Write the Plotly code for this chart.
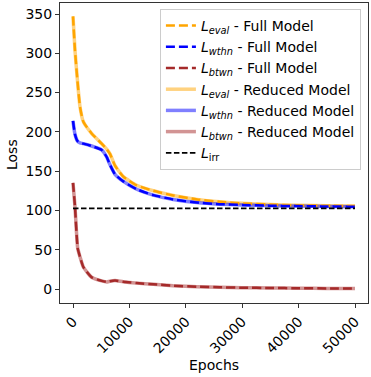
import plotly.graph_objects as go

epochs = [0, 350, 830, 1240, 1830, 3300, 5080, 5970, 6560, 7450, 8920, 11290,
          14240, 17780, 22000, 26000, 30000, 35000, 40000, 45000, 50000]

eval_full = [347, 304, 262, 232, 213, 198, 185, 178, 172, 157, 143, 132,
             125, 119, 114, 111, 109, 107.5, 106.5, 106, 105.5]
wthn_full = [214, 197, 188, 186, 185, 182, 177, 168, 158, 146, 137, 127,
             119.5, 114, 110, 108, 107, 106, 105.5, 105, 104.8]
btwn_full = [135, 105, 52, 41, 28, 15, 10.3, 9.0, 10.0, 10.8, 9.2, 7.5,
             6.0, 4.2, 3.0, 2.2, 1.7, 1.3, 1.0, 0.8, 0.7]

eval_red = list(eval_full)
wthn_red = list(wthn_full)
btwn_red = list(btwn_full)

irr_x = [0, 50000]
irr_y = [102.7, 102.7]

x_ticks = [0, 10000, 20000, 30000, 40000, 50000]
y_ticks = [0, 50, 100, 150, 200, 250, 300, 350]

names = [
    "<i>L</i><sub><i>eval</i></sub> - Full Model",
    "<i>L</i><sub><i>wthn</i></sub> - Full Model",
    "<i>L</i><sub><i>btwn</i></sub> - Full Model",
    "<i>L</i><sub><i>eval</i></sub> - Reduced Model",
    "<i>L</i><sub><i>wthn</i></sub> - Reduced Model",
    "<i>L</i><sub><i>btwn</i></sub> - Reduced Model",
    "<i>L</i><sub>irr</sub>",
]

fig = go.Figure()
full = [(eval_full, "#FFA500"), (wthn_full, "#0000FF"), (btwn_full, "#A52A2A")]
red = [(eval_red, "rgba(255,165,0,0.5)"), (wthn_red, "rgba(0,0,255,0.5)"),
       (btwn_red, "rgba(165,42,42,0.5)")]

for i, (ys, c) in enumerate(red):
    fig.add_trace(go.Scatter(x=epochs, y=ys, mode="lines", name=names[3 + i],
                             line=dict(color=c, width=3.5, shape="spline", smoothing=0.5),
                             legendrank=4 + i))
for i, (ys, c) in enumerate(full):
    fig.add_trace(go.Scatter(x=epochs, y=ys, mode="lines", name=names[i],
                             line=dict(color=c, width=2.5, dash="9px,4px",
                                       shape="spline", smoothing=0.5),
                             legendrank=1 + i))
fig.add_trace(go.Scatter(x=irr_x, y=irr_y, mode="lines", name=names[6],
                         line=dict(color="black", width=1.8, dash="5.5px,2.5px"),
                         legendrank=7))

axis_common = dict(showline=True, linecolor="#333333", linewidth=1, mirror=True,
                   ticks="outside", ticklen=4, tickcolor="#333333", showgrid=False,
                   zeroline=False, tickfont=dict(size=14, color="black"),
                   automargin=False)

fig.update_layout(
    width=371, height=377,
    margin=dict(l=60, r=3, t=3, b=74),
    paper_bgcolor="white", plot_bgcolor="white",
    font=dict(family="DejaVu Sans", size=14, color="black"),
    xaxis=dict(range=[-2305, 52305], tickvals=x_ticks, ticktext=[str(v) for v in x_ticks],
               tickangle=-45, **axis_common),
    yaxis=dict(range=[-17.8, 364], tickvals=y_ticks, **axis_common),
    legend=dict(x=0.977, y=0.98, xanchor="right", yanchor="top",
                bgcolor="rgba(255,255,255,0.8)", bordercolor="#cccccc", borderwidth=1,
                font=dict(size=14), tracegroupgap=0, itemwidth=30),
    showlegend=True,
    annotations=[
        dict(text="Epochs", xref="paper", yref="paper", x=(214 - 60) / 308,
             y=-(365 - 303) / 300, xanchor="center", yanchor="middle",
             showarrow=False, font=dict(size=14)),
        dict(text="Loss", xref="paper", yref="paper", x=-(60 - 12) / 308,
             y=(303 - 155) / 300, xanchor="center", yanchor="middle",
             textangle=-90, showarrow=False, font=dict(size=14)),
    ],
)

fig.write_html("out.html", config={"displayModeBar": False},
               post_script="document.body.style.margin='0px';")
